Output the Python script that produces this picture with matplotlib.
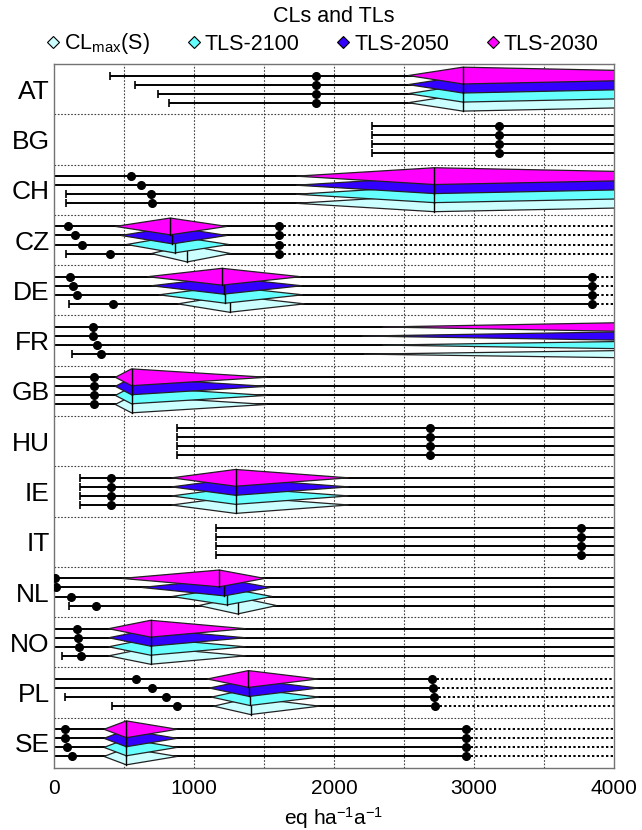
import matplotlib
matplotlib.use("Agg")
import matplotlib.pyplot as plt
from matplotlib.patches import Polygon
from matplotlib.lines import Line2D

plt.rcParams['font.family'] = ['Liberation Sans', 'DejaVu Sans']
plt.rcParams['mathtext.fontset'] = 'custom'
plt.rcParams['mathtext.rm'] = 'Liberation Sans'
plt.rcParams['mathtext.default'] = 'regular'

countries = ['AT', 'BG', 'CH', 'CZ', 'DE', 'FR', 'GB', 'HU', 'IE', 'IT', 'NL', 'NO', 'PL', 'SE']
# rows within a country, top to bottom
series = ['TLS-2030', 'TLS-2050', 'TLS-2100', 'CL$_{max}$(S)']
colors = ['#FF00FF', '#3300FF', '#66FFFF', '#CCFFFF']

# start of each line (0 = from axis, no end tick)
start_vals = [
    [397, 576, 743, 824],
    [2273, 2273, 2273, 2273],
    [0, 0, 83, 83],
    [0, 0, 0, 84],
    [0, 0, 0, 104],
    [0, 0, 0, 125],
    [0, 0, 0, 0],
    [878, 878, 878, 878],
    [183, 183, 183, 183],
    [1158, 1158, 1158, 1158],
    [0, 0, 0, 105],
    [0, 0, 0, 58],
    [0, 0, 80, 415],
    [0, 0, 0, 0],
]
# black dot on each line
dot_vals = [
    [1872, 1872, 1872, 1872],
    [3178, 3178, 3178, 3178],
    [552, 622, 694, 698],
    [100, 150, 202, 403],
    [114, 138, 165, 423],
    [278, 278, 306, 338],
    [288, 288, 288, 288],
    [2688, 2688, 2688, 2688],
    [406, 406, 406, 406],
    [3762, 3762, 3762, 3762],
    [5, 13, 124, 301],
    [163, 170, 176, 196],
    [583, 697, 800, 878],
    [82, 82, 96, 128],
]
# end dot followed by dotted line (None = solid line to the axis end)
end_vals = [
    None, None, None,
    [1608, 1608, 1608, 1608],
    [3845, 3845, 3845, 3845],
    None, None, None, None, None, None, None,
    [2703, 2709, 2714, 2720],
    [2943, 2943, 2943, 2943],
]
# diamonds per row: (left, peak, right); None = no diamond
diamonds = [
    [(2530, 2920, 5800)] * 4,
    None,
    [(1730, 2716, 5700)] * 4,
    [(438, 830, 1235), (478, 846, 1235), (519, 862, 1249), (695, 951, 1262)],
    [(668, 1200, 1762), (695, 1211, 1770), (749, 1224, 1776), (884, 1254, 1789)],
    [(2345, 5655, 9000), (2202, 5950, 9000), (2345, 6300, 9500), (2214, 6500, 9500)],
    [(438, 554, 1519)] * 4,
    None,
    [(840, 1297, 2105)] * 4,
    None,
    [(485, 1181, 1505), (627, 1216, 1546), (843, 1235, 1559), (1035, 1311, 1590)],
    [(390, 690, 1368)] * 4,
    [(1095, 1389, 1884), (1110, 1394, 1888), (1125, 1399, 1892), (1140, 1404, 1896)],
    [(357, 517, 880)] * 4,
]

row_off = [-0.27, -0.09, 0.09, 0.27]
half_h = 0.167
XMAX = 4000

fig = plt.figure(figsize=(6.42, 8.30), dpi=100)
ax = fig.add_axes([54 / 642, 62 / 830, 560 / 642, 704 / 830])
ax.set_xlim(0, XMAX)
ax.set_ylim(len(countries), 0)

for ci, c in enumerate(countries):
    yc = ci + 0.5
    ends = end_vals[ci]
    for r in range(4):
        y = yc + row_off[r]
        s = start_vals[ci][r]
        e = ends[r] if ends is not None else XMAX
        ax.plot([s, e], [y, y], color='black', lw=1.4, zorder=2, solid_capstyle='butt')
        if s > 0:
            ax.plot([s], [y], marker='|', ms=6, mew=1.2, color='black', zorder=2)
        if ends is not None:
            ax.plot([e, XMAX], [y, y], color='black', lw=1.4, ls=(0, (1.2, 1.2)), zorder=2)
            ax.plot([e], [y], marker='o', ms=5.5, color='black', zorder=6)
        ax.plot([dot_vals[ci][r]], [y], marker='o', ms=5.5, color='black', zorder=6)
    dm = diamonds[ci]
    if dm is not None:
        for r in range(3, -1, -1):
            y = yc + row_off[r]
            l, p, rr = dm[r]
            z = 3 + (3 - r) * 0.1
            poly = Polygon([(l, y), (p, y - half_h), (rr, y), (p, y + half_h)], closed=True,
                           facecolor=colors[r], edgecolor='#222222', lw=0.9, zorder=z)
            ax.add_patch(poly)
            ax.plot([p, p], [y - half_h, y + half_h], color='black', lw=1.0, zorder=z + 0.01)

# grid
ax.set_xticks(range(0, XMAX + 1, 1000))
for xv in range(500, XMAX, 500):
    ax.axvline(xv, color='0.25', lw=0.8, ls=(0, (1.5, 1.5)), zorder=1)
for yv in range(1, len(countries)):
    ax.axhline(yv, color='0.25', lw=0.8, ls=(0, (1.5, 1.5)), zorder=1)

ax.set_yticks([i + 0.5 for i in range(len(countries))])
ax.set_yticklabels(countries, fontsize=19)
ax.tick_params(axis='both', which='both', length=0)
ax.tick_params(axis='x', labelsize=15, pad=8)
ax.tick_params(axis='y', pad=3)
for sp in ax.spines.values():
    sp.set_color('0.45')
    sp.set_linewidth(1.0)
ax.set_xlabel('eq ha$^{-1}$a$^{-1}$', fontsize=15, labelpad=5)

fig.text(334 / 642, 1 - 17 / 830, 'CLs and TLs', ha='center', va='center', fontsize=15.5)

legend_colors = [colors[3], colors[2], colors[1], colors[0]]
legend_labels = [series[3], series[2], series[1], series[0]]
handles = [Line2D([], [], ls='none', marker='D', ms=6, mfc=col, mec='black', mew=0.8)
           for col in legend_colors]
fig.legend(handles, legend_labels, loc='center', bbox_to_anchor=(322 / 642, 1 - 44 / 830),
           ncol=4, frameon=False, fontsize=15.5, handlelength=0.7, handletextpad=0.15,
           columnspacing=1.7, borderpad=0, borderaxespad=0)

fig.savefig('out.png', dpi=100)
